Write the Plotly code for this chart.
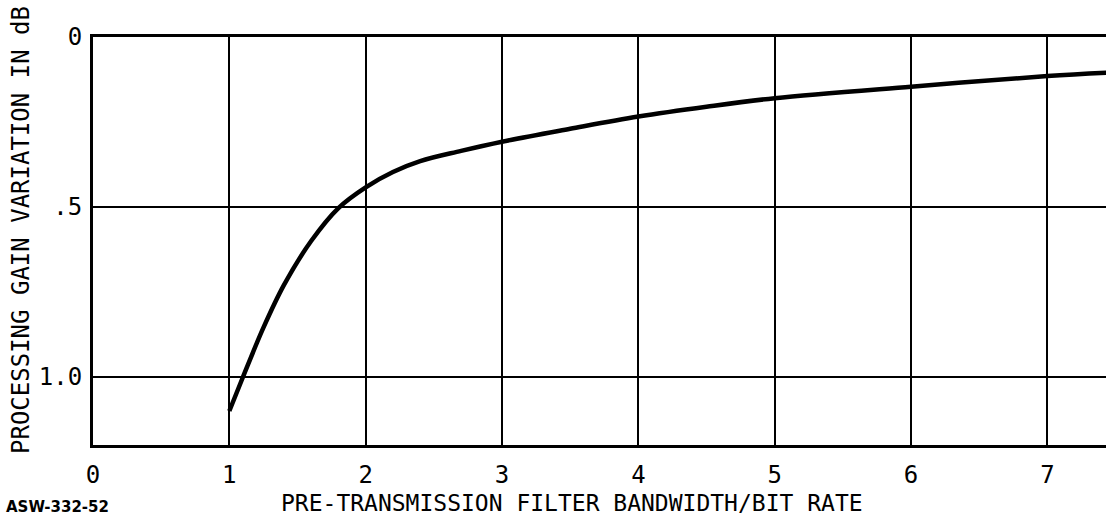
import plotly.graph_objects as go

# Curve
bw_ratio = [1.0, 1.1, 1.25, 1.4, 1.6, 1.8, 2.0, 2.2, 2.4, 2.7, 3.0, 3.5, 4.0, 4.5, 5.0, 6.0, 7.0, 7.45]
gain_var = [1.10, 1.0, 0.855, 0.73, 0.60, 0.503, 0.442, 0.397, 0.365, 0.335, 0.308, 0.27, 0.234, 0.205, 0.18, 0.146, 0.115, 0.105]

x_ticks = [0, 1, 2, 3, 4, 5, 6, 7]
x_tick_text = ["0", "1", "2", "3", "4", "5", "6", "7"]
y_ticks = [0, 0.5, 1.0]
y_tick_text = ["0", ".5", "1.0"]

FONT = "DejaVu Sans Mono"

fig = go.Figure()
fig.add_trace(go.Scatter(
    x=bw_ratio, y=gain_var, mode="lines",
    line=dict(color="black", width=4.5, shape="spline", smoothing=1.0),
    showlegend=False, hoverinfo="skip",
))

fig.update_layout(
    width=1106, height=519,
    margin=dict(l=93, r=0, t=37, b=74),
    paper_bgcolor="white", plot_bgcolor="white",
    font=dict(family=FONT, color="black", size=24),
    xaxis=dict(
        range=[0, 7.43], tickvals=x_ticks, ticktext=x_tick_text,
        showgrid=True, gridcolor="black", gridwidth=1.5,
        showline=True, linecolor="black", linewidth=3, mirror=True,
        zeroline=False, ticks="", ticklabelstandoff=6, automargin=False,
        tickfont=dict(family=FONT, size=24),
    ),
    yaxis=dict(
        range=[1.2, 0], tickvals=y_ticks, ticktext=y_tick_text,
        showgrid=True, gridcolor="black", gridwidth=1.5,
        showline=True, linecolor="black", linewidth=3,
        zeroline=False, ticks="", ticklabelstandoff=3, automargin=False,
        tickfont=dict(family=FONT, size=24),
    ),
    annotations=[
        dict(text="PROCESSING GAIN VARIATION IN dB", xref="paper", yref="paper",
             x=0, xshift=-72, y=0.527, xanchor="center", yanchor="middle",
             textangle=-90, showarrow=False, font=dict(family=FONT, size=24)),
        dict(text="PRE-TRANSMISSION FILTER BANDWIDTH/BIT RATE", xref="paper", yref="paper",
             x=0.473, y=-0.142, xanchor="center", yanchor="middle",
             showarrow=False, font=dict(family=FONT, size=23)),
        dict(text="ASW-332-52", xref="paper", yref="paper",
             x=0, xshift=-89, y=-0.152, xanchor="left", yanchor="middle",
             showarrow=False, font=dict(family="DejaVu Sans", size=15, weight="bold")),
    ],
)

fig.write_html("out.html", config={"displayModeBar": False},
               post_script="document.body.style.margin='0';document.body.style.overflow='hidden';")
